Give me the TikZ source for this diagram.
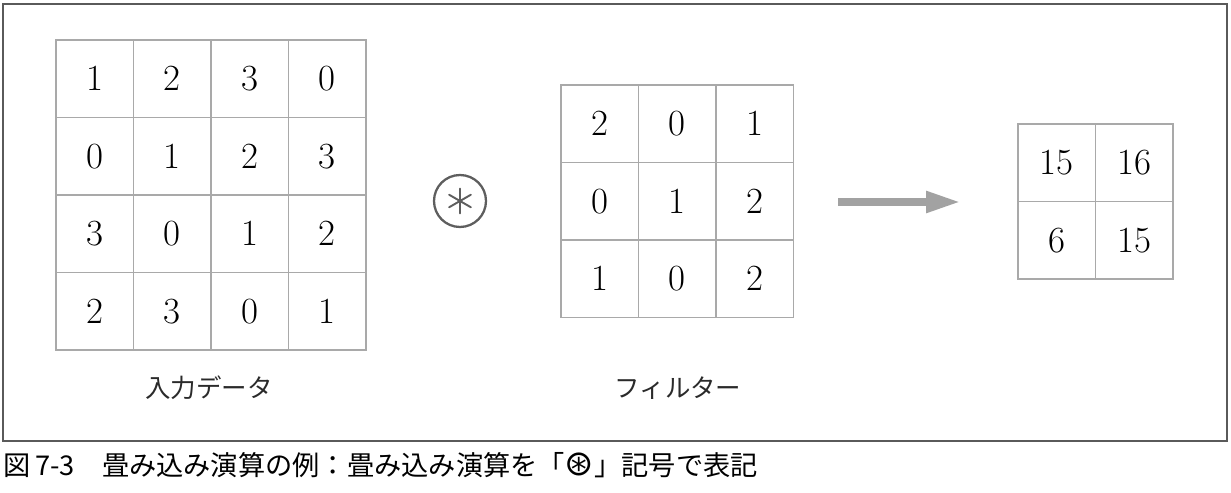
\documentclass[tikz,border=0pt]{standalone}
\usepackage{fontspec}
\newfontfamily\jpfont{Noto Sans CJK JP}
\newfontfamily\symfont{DejaVu Sans}
\usetikzlibrary{arrows.meta, positioning}
\definecolor{gridgray}{HTML}{A9A9A9}
\definecolor{framegray}{HTML}{5A5A5A}
\definecolor{arrowgray}{HTML}{A2A2A2}
\definecolor{opgray}{HTML}{5E5E5E}
\definecolor{labelgray}{HTML}{2A2A2A}
\tikzset{
  % マス目
  cell/.style={draw=gridgray, line width=1.1pt, minimum size=1.55cm, inner sep=0pt,
    text=black, font=\fontsize{21}{24}\selectfont},
  % 畳み込みの記号
  opcircle/.style={circle, draw=opgray, line width=1.3pt, minimum size=1.04cm, inner sep=0pt},
  opline/.style={opgray, line width=1.1pt, line cap=round},
  % 太い矢印
  fatarrow/.style={arrowgray, line width=0.16cm, -{Triangle[length=0.7cm, width=0.4cm]}},
  % ラベル
  lbl/.style={font=\jpfont\fontsize{14.5}{17}\selectfont, text=labelgray, inner sep=0pt},
  capt/.style={font=\jpfont\fontsize{15.5}{18}\selectfont, anchor=west, inner sep=0pt},
}
\begin{document}
\begin{tikzpicture}[x=0.02cm, y=-0.02cm]
  \useasboundingbox (0,0) rectangle (1231,493);
  \draw[framegray, line width=1.2pt] (3,4) rectangle (1227,441);
  % 入力データ
  \foreach \rowvals [count=\r] in {{1,2,3,0},{0,1,2,3},{3,0,1,2},{2,3,0,1}}
    \foreach \v [count=\c] in \rowvals
      \node[cell] (in-\r-\c) at (17.25+77.5*\c, 1.25+77.5*\r) {\v};
  \node[lbl] (inlbl) at (209,388) {入力データ};
  % 記号
  \node[opcircle] (op) at (460,201) {};
  \foreach \a in {30,90,150}
    \draw[opline] ([shift={(\a:0.25cm)}]op.center) -- ([shift={(\a+180:0.25cm)}]op.center);
  % フィルター
  \foreach \rowvals [count=\r] in {{2,0,1},{0,1,2},{1,0,2}}
    \foreach \v [count=\c] in \rowvals
      \node[cell] (flt-\r-\c) at (522.25+77.5*\c, 46.25+77.5*\r) {\v};
  \node[lbl] (fltlbl) at (678,388) {フィルター};
  % 出力
  \coordinate (arrs) at (838,202);
  \coordinate (arre) at (961,202);
  \draw[fatarrow] (arrs) -- (arre);
  \foreach \rowvals [count=\r] in {{15,16},{6,15}}
    \foreach \v [count=\c] in \rowvals
      \node[cell] (out-\r-\c) at (979.25+77.5*\c, 85.25+77.5*\r) {\v};
  % キャプション
  \node[capt] (cap) at (3,465) {図\,7-3　畳み込み演算の例：畳み込み演算を「{\symfont\fontsize{20}{18}\selectfont ⊛}」記号で表記};
\end{tikzpicture}
\end{document}
